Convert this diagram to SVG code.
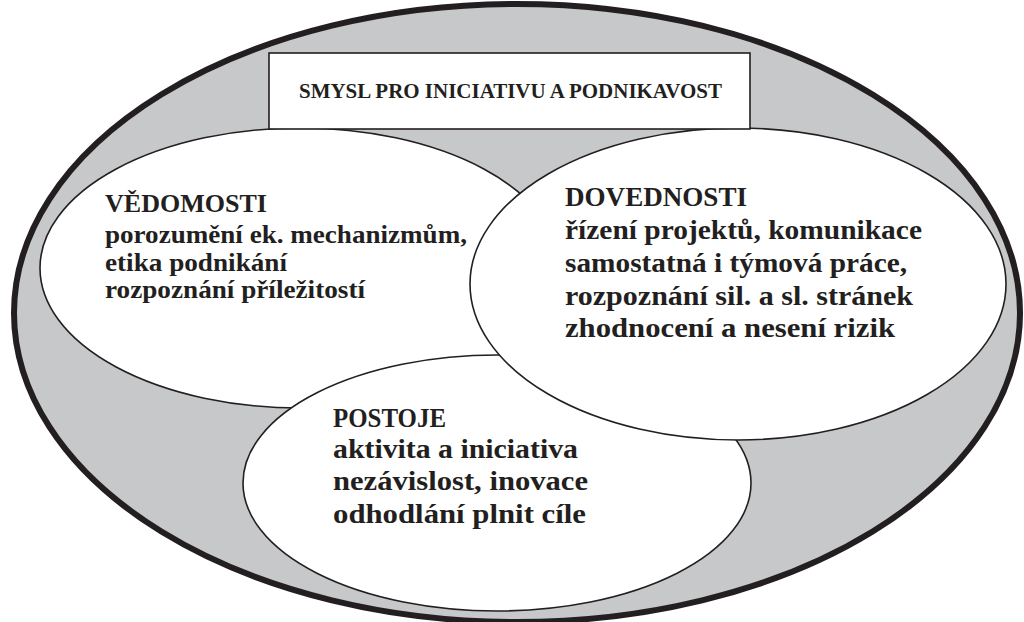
<svg xmlns="http://www.w3.org/2000/svg" width="1024" height="622" viewBox="0 0 1024 622">
  <style>
    .bubble { fill: #ffffff; stroke: #231f20; stroke-width: 1.6; }
    .t { font-family: "Liberation Serif", "DejaVu Serif", serif; font-weight: bold; fill: #231f20; }
    .l { font-size: 25px; }
    .r { font-size: 28px; }
    .b { font-size: 28px; }
    .title { font-size: 20px; }
  </style>
  <rect x="0" y="0" width="1024" height="622" fill="#ffffff"/>
  <g id="outer">
    <ellipse cx="517" cy="313" rx="503" ry="309" fill="#c7c8ca" stroke="#231f20" stroke-width="6"/>
  </g>
  <g id="vedomosti">
    <ellipse class="bubble" cx="300" cy="268" rx="260" ry="140"/>
  </g>
  <g id="postoje">
    <ellipse class="bubble" cx="497" cy="483" rx="254" ry="128"/>
  </g>
  <g id="dovednosti">
    <ellipse class="bubble" cx="738" cy="284" rx="268" ry="156"/>
  </g>
  <g id="title">
    <rect x="269" y="53" width="481" height="76" fill="#ffffff" stroke="#231f20" stroke-width="1.6"/>
    <text class="t title" x="299" y="98" textLength="423" lengthAdjust="spacingAndGlyphs">SMYSL PRO INICIATIVU A PODNIKAVOST</text>
  </g>
  <g id="vedomosti-text">
    <text class="t l" x="105" y="212" textLength="162" lengthAdjust="spacingAndGlyphs">VĚDOMOSTI</text>
    <text class="t l" x="105" y="243" textLength="362" lengthAdjust="spacingAndGlyphs">porozumění ek. mechanizmům,</text>
    <text class="t l" x="105" y="271" textLength="182" lengthAdjust="spacingAndGlyphs">etika podnikání</text>
    <text class="t l" x="105" y="298" textLength="260" lengthAdjust="spacingAndGlyphs">rozpoznání příležitostí</text>
  </g>
  <g id="dovednosti-text">
    <text class="t r" x="565" y="206" textLength="182" lengthAdjust="spacingAndGlyphs">DOVEDNOSTI</text>
    <text class="t r" x="565" y="239" textLength="357" lengthAdjust="spacingAndGlyphs">řízení projektů, komunikace</text>
    <text class="t r" x="565" y="272" textLength="342" lengthAdjust="spacingAndGlyphs">samostatná i týmová práce,</text>
    <text class="t r" x="565" y="305" textLength="348" lengthAdjust="spacingAndGlyphs">rozpoznání sil. a sl. stránek</text>
    <text class="t r" x="565" y="337" textLength="330" lengthAdjust="spacingAndGlyphs">zhodnocení a nesení rizik</text>
  </g>
  <g id="postoje-text">
    <text class="t b" x="333" y="427" textLength="113" lengthAdjust="spacingAndGlyphs">POSTOJE</text>
    <text class="t b" x="333" y="458" textLength="245" lengthAdjust="spacingAndGlyphs">aktivita a iniciativa</text>
    <text class="t b" x="333" y="490" textLength="255" lengthAdjust="spacingAndGlyphs">nezávislost, inovace</text>
    <text class="t b" x="333" y="523" textLength="253" lengthAdjust="spacingAndGlyphs">odhodlání plnit cíle</text>
  </g>
</svg>
